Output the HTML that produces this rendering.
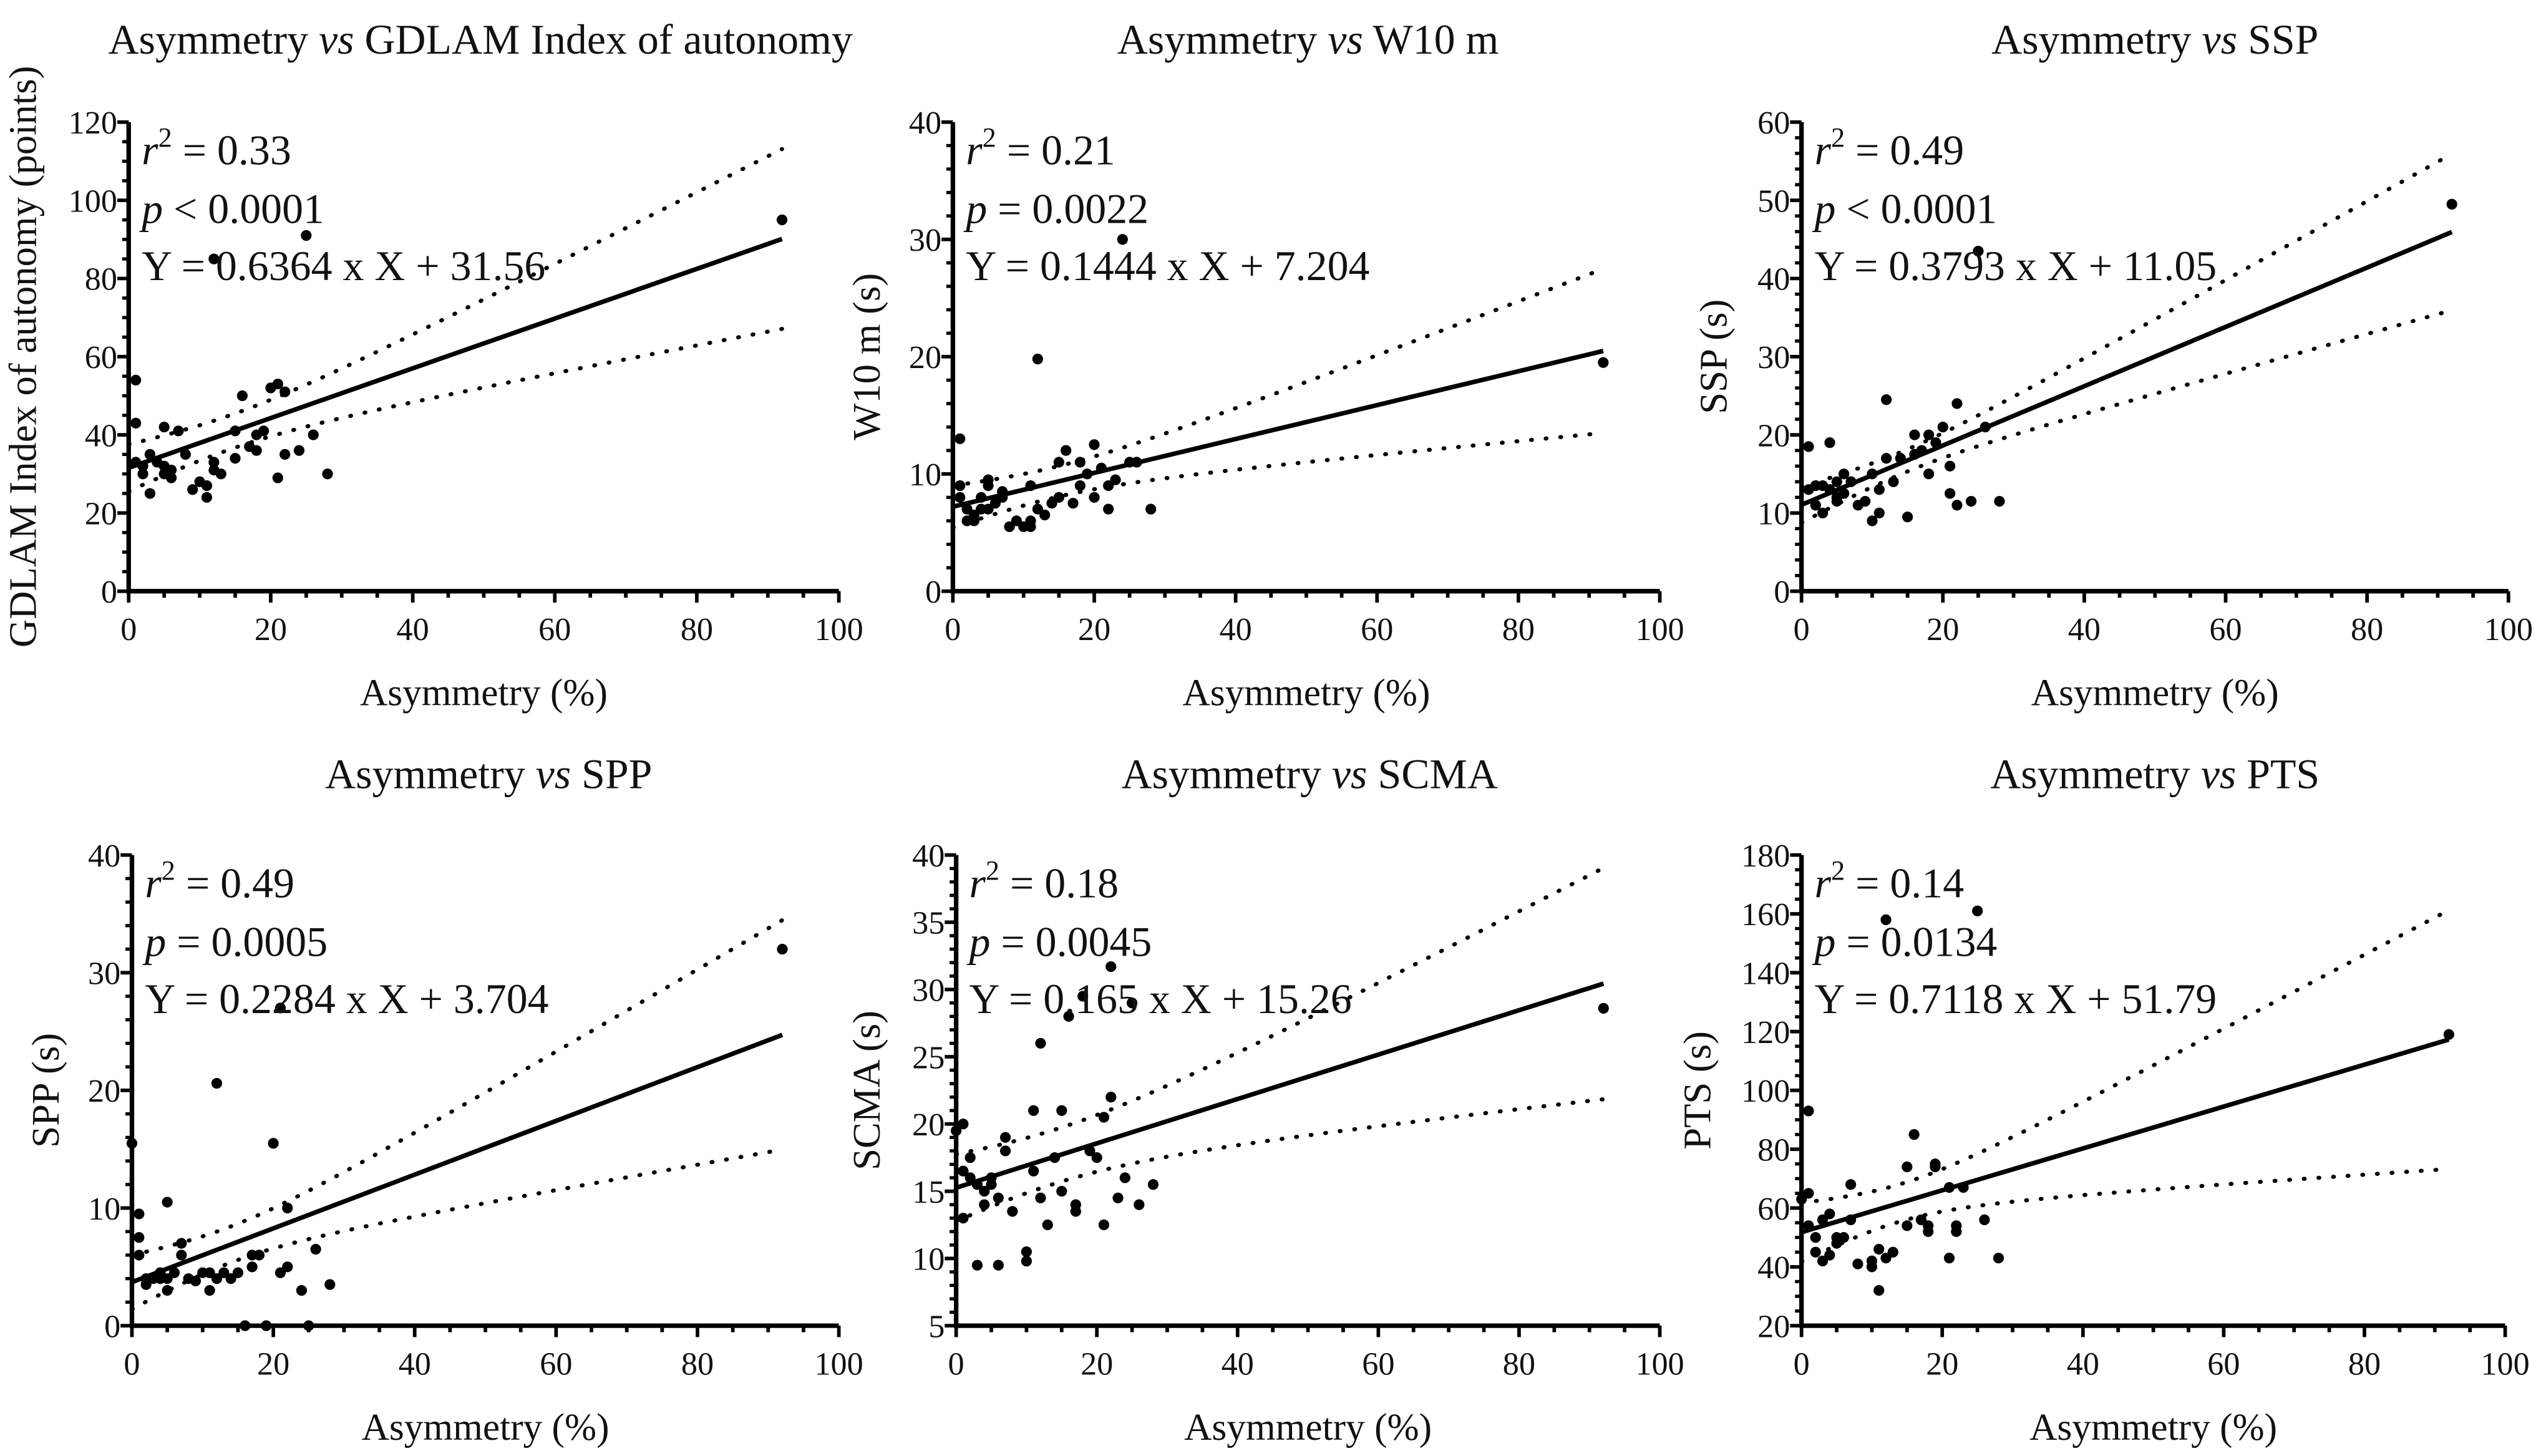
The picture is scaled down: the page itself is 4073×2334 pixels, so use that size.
<!DOCTYPE html>
<html><head><meta charset="utf-8"><style>
html,body{margin:0;padding:0;background:#fff}
svg{display:block}
text{font-family:"Liberation Serif",serif;fill:#111}
</style></head><body>
<svg id="fig" width="4073" height="2334" viewBox="0 0 1560 894" preserveAspectRatio="none" xmlns="http://www.w3.org/2000/svg"></svg>
<script>
// ---------- data ----------
const p1x=[1,1,1,2,2,3,3,4,5,5,5,6,6,7,8,9,10,11,11,12,12,13,15,15,16,17,18,18,19,20,21,21,22,22,24,25,26,28,12,92];
const p1y=[54,43,33,30,32,25,35,33,42,30,32,29,31,41,35,26,28,24,27,31,33,30,34,41,50,37,36,40,41,52,53,29,35,51,36,91,40,30,85,95];
const p2x=[1,1,1,2,2,3,3,4,4,5,5,5,6,7,7,8,9,10,11,11,11,12,12,13,14,15,15,16,17,18,18,19,20,20,21,22,22,23,24,25,26,28,92];
const p2y=[13,9,8,6,7,6.5,6,7,8,9.5,9,7,7.5,8,8.5,5.5,6,5.5,5.5,6,9,19.8,7,6.5,7.5,11,8,12,7.5,11,9,10,12.5,8,10.5,7,9,9.5,30,11,11,7,19.5];
const p3x=[1,1,2,2,3,3,4,4,5,5,5,6,6,7,8,9,10,10,11,11,12,12,13,14,15,16,16,17,18,18,19,20,21,21,22,22,24,25,26,28,92];
const p3y=[18.5,13,13.5,11,10,13.5,19,13,11.5,12,14,12.5,15,14,11,11.5,9,15,10,13,24.5,17,14,17,9.5,17.5,20,18,15,20,19,21,16,12.5,24,11,11.5,43.5,21,11.5,49.5];
const p4x=[0,1,1,1,2,2,3,4,4,5,5,5,6,7,7,8,9,10,11,11,12,12,13,14,15,16,17,17,18,19,20,21,21,22,22,24,25,26,28,92];
const p4y=[15.5,9.5,7.5,6,4,3.5,4,4.5,4,10.5,4,3,4.5,6,7,4,3.8,4.5,3,4.5,20.6,4,4.5,4,4.5,0,5,6,6,0,15.5,27,4.5,5,10,3,0,6.5,3.5,32];
const p5x=[0,1,1,1,2,2,3,3,4,4,5,5,6,6,7,7,8,10,10,11,11,12,12,13,14,15,15,16,17,17,18,19,20,21,21,22,22,23,24,25,26,28,92];
const p5y=[19.5,20,16.5,13,17.5,16,9.5,15.5,15,14,15.5,16,9.5,14.5,19,18,13.5,9.8,10.5,21,16.5,26,14.5,12.5,17.5,21,15,28,13.5,14,29.5,18,17.5,20.5,12.5,22,31.7,14.5,16,29,14,15.5,28.6];
const p6x=[0,1,1,1,2,2,3,3,4,4,5,5,6,7,7,8,10,10,11,11,12,12,13,15,15,16,17,18,18,19,19,21,21,22,22,23,25,26,28,92];
const p6y=[63,93,65,54,45,50,42,56,44,58,50,48,50,68,56,41,42,40,32,46,158,43,45,54,74,85,56,54,52,74,75,67,43,52,54,67,161,56,43,119];
const slopes=[0.6364,0.1444,0.3793,0.2284,0.165,0.7118];
const intercepts=[31.56,7.204,11.05,3.704,15.26,51.79];
const ciHalf0=[6,1.8,2.3,2.3,2.5,10];
const ciHalf92=[23,7,10,9.75,8.6,44];
const titles=["GDLAM Index of autonomy","W10 m","SSP","SPP","SCMA","PTS"];
const yTitles=["GDLAM Index of autonomy (points)","W10 m (s)","SSP (s)","SPP (s)","SCMA (s)","PTS (s)"];
const r2Labels=["0.33","0.21","0.49","0.49","0.18","0.14"];
const pLabels=["< 0.0001","= 0.0022","< 0.0001","= 0.0005","= 0.0045","= 0.0134"];
const eqLabels=["Y = 0.6364 x X + 31.56","Y = 0.1444 x X + 7.204","Y = 0.3793 x X + 11.05","Y = 0.2284 x X + 3.704","Y = 0.165 x X + 15.26","Y = 0.7118 x X + 51.79"];
const yMin=[0,0,0,0,5,20], yMax=[120,40,60,40,40,180], yStep=[20,10,10,10,5,20], yMinor=[5,2,2,2,1,5];
const xTicks=[0,20,40,60,80,100];
const xs=[p1x,p2x,p3x,p4x,p5x,p6x], ys=[p1y,p2y,p3y,p4y,p5y,p6y];
// ---------- layout ----------
const L=[
 {x0:79,x1:515,yb:363,yt:75,tx:295,ty:33,ytx:22,xl:426},
 {x0:585,x1:1019,yb:363,yt:75,tx:803,ty:33,ytx:540,xl:426},
 {x0:1106,x1:1540,yb:363,yt:75,tx:1323,ty:33,ytx:1060,xl:426},
 {x0:81,x1:515,yb:814,yt:525,tx:300,ty:484,ytx:36,xl:877},
 {x0:587,x1:1019,yb:814,yt:525,tx:804,ty:484,ytx:540,xl:877},
 {x0:1106,x1:1538,yb:814,yt:525,tx:1323,ty:484,ytx:1050,xl:877}];
const NS="http://www.w3.org/2000/svg";
const svg=document.getElementById('fig');
function mk(tag,attrs,parent){const e=document.createElementNS(NS,tag);for(const k in attrs)e.setAttribute(k,attrs[k]);(parent||svg).appendChild(e);return e;}
for(let i=0;i<6;i++){
 const l=L[i];
 const g=mk('g',{});
 
 
 const sx=v=>l.x0+(v/100)*(l.x1-l.x0);
 const sy=v=>l.yb-(v-yMin[i])/(yMax[i]-yMin[i])*(l.yb-l.yt);
 const t=mk('text',{x:l.tx,y:l.ty,'text-anchor':'middle','font-size':26},g);
 
 
 t.innerHTML='Asymmetry <tspan font-style="italic">vs</tspan> '+titles[i];
 const ax=mk('path',{d:`M${l.x0},${l.yt} V${l.yb} H${l.x1}`,stroke:'#000','stroke-width':2.8,fill:'none'},g);
 
 
 for(let v=yMin[i];v<=yMax[i]+1e-9;v+=yMinor[i]){
  const major=Math.abs((v-yMin[i])%yStep[i])<1e-9||Math.abs((v-yMin[i])%yStep[i]-yStep[i])<1e-9;
  mk('line',{x1:l.x0-(major?7:4),x2:l.x0,y1:sy(v),y2:sy(v),stroke:'#000','stroke-width':major?2.2:2},g);
  if(major){const tl=mk('text',{x:l.x0-7,y:sy(v)+7,'text-anchor':'end','font-size':20},g);
   
   
   tl.textContent=v;}
 }
 for(let v=0;v<=100;v+=5){const major=v%20===0;
  mk('line',{x1:sx(v),x2:sx(v),y1:l.yb,y2:l.yb+(major?7:4),stroke:'#000','stroke-width':2.2},g);}
 xTicks.forEach(v=>{const tl=mk('text',{x:sx(v),y:l.yb+30,'text-anchor':'middle','font-size':20},g);
  
  
  tl.textContent=v;});
 const xt=mk('text',{x:(l.x0+l.x1)/2,y:l.xl+7,'text-anchor':'middle','font-size':23.5},g);
 
 
 xt.textContent='Asymmetry (%)';
 const cy=(l.yt+l.yb)/2;
 const yt=mk('text',{x:l.ytx,y:cy,'text-anchor':'middle','font-size':24,transform:`rotate(-90 ${l.ytx} ${cy})`},g);
 
 
 yt.textContent=yTitles[i];
 const X=xs[i],Y=ys[i];
 const m=X.reduce((a,b)=>a+b,0)/X.length;
 const h0=ciHalf0[i],h1=ciHalf92[i];
 const b=(h1*h1-h0*h0)/((92-m)*(92-m)-m*m), a=h0*h0-b*m*m;
 const hw=x=>Math.sqrt(Math.max(a+b*(x-m)*(x-m),0));
 const fit=x=>slopes[i]*x+intercepts[i];
 [1,-1].forEach(s=>{let d='';for(let x=0;x<=92;x+=1){d+=(x?'L':'M')+sx(x)+','+sy(fit(x)+s*hw(x));}
  const p=mk('path',{d,fill:'none',stroke:'#000','stroke-width':2.5,'stroke-dasharray':'0.5 8.5','stroke-linecap':'round'},g);
  
  });
 const rl=mk('line',{x1:sx(0),y1:sy(fit(0)),x2:sx(92),y2:sy(fit(92)),stroke:'#000','stroke-width':2.8},g);
 
 
 for(let k=0;k<X.length;k++){
  const c=mk('circle',{cx:sx(X[k]),cy:sy(Y[k]),r:3.3,fill:'#000'},g);
  
  
 }
 const st=l.yt+26;
 const s1=mk('text',{x:l.x0+8,y:st,'font-size':26},g);
 
 
 s1.innerHTML='<tspan font-style="italic">r</tspan><tspan dy="-11" font-size="17">2</tspan><tspan dy="11"> = '+r2Labels[i]+'</tspan>';
 const s2=mk('text',{x:l.x0+8,y:st+36,'font-size':26},g);
 
 
 s2.innerHTML='<tspan font-style="italic">p</tspan> '+pLabels[i];
 const s3=mk('text',{x:l.x0+8,y:st+71,'font-size':26},g);
 
 
 s3.textContent=eqLabels[i];
}
</script>
</body></html>
